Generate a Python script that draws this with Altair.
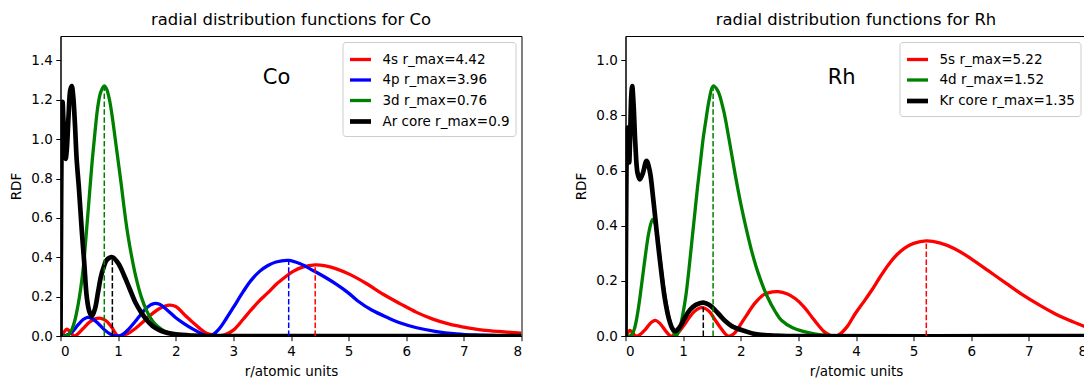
import altair as alt
import pandas as pd

FONT = "DejaVu Sans"

# ---------------- Co panel data ----------------
CO_LABELS = ["4s r_max=4.42", "4p r_max=3.96", "3d r_max=0.76", "Ar core r_max=0.9"]
CO_COLORS = ["#ff0000", "#0000ff", "#008000", "#000000"]
CO_WIDTHS = [3.3, 3.3, 3.3, 4.7]
CO_RMAX = [4.42, 3.96, 0.76, 0.9]
CO_PEAK = [0.361, 0.384, 1.27, 0.40]

CO_4S = [(0, 0), (0.05, 0.015), (0.11, 0.035), (0.17, 0.02), (0.24, 0), (0.3, 0.01), (0.4, 0.04),
         (0.5, 0.07), (0.6, 0.087), (0.7, 0.09), (0.8, 0.075), (0.9, 0.04), (0.95, 0.015), (1.0, 0),
         (1.1, 0.005), (1.2, 0.018), (1.3, 0.038), (1.4, 0.063), (1.5, 0.09), (1.6, 0.115), (1.72, 0.14),
         (1.89, 0.157), (2.0, 0.15), (2.18, 0.10), (2.3, 0.068), (2.41, 0.04), (2.5, 0.02), (2.6, 0.008),
         (2.73, 0), (2.85, 0.006), (3.0, 0.03), (3.17, 0.085), (3.3, 0.13), (3.45, 0.178), (3.6, 0.22),
         (3.74, 0.262), (3.9, 0.3), (4.03, 0.327), (4.2, 0.35), (4.42, 0.361), (4.6, 0.356), (4.8, 0.34),
         (5.02, 0.313), (5.3, 0.268), (5.6, 0.212), (5.9, 0.163), (6.18, 0.12), (6.45, 0.087),
         (6.75, 0.06), (7.0, 0.045), (7.33, 0.03), (7.7, 0.021), (8.0, 0.014)]

CO_4P = [(0, 0), (0.1, 0.003), (0.2, 0.02), (0.3, 0.055), (0.4, 0.085), (0.47, 0.095), (0.55, 0.088),
         (0.65, 0.065), (0.75, 0.035), (0.85, 0.012), (0.92, 0.003), (0.98, 0), (1.05, 0.004),
         (1.1, 0.012), (1.2, 0.04), (1.3, 0.075), (1.4, 0.112), (1.5, 0.145), (1.62, 0.165),
         (1.72, 0.161), (1.85, 0.132), (2.0, 0.093), (2.15, 0.062), (2.3, 0.035), (2.45, 0.012),
         (2.56, 0), (2.65, 0.008), (2.75, 0.035), (2.88, 0.09), (3.0, 0.145), (3.17, 0.225), (3.3, 0.28),
         (3.45, 0.327), (3.6, 0.358), (3.74, 0.376), (3.96, 0.384), (4.15, 0.368), (4.4, 0.33),
         (4.6, 0.297), (4.79, 0.262), (5.0, 0.218), (5.16, 0.178), (5.4, 0.132), (5.68, 0.093),
         (5.9, 0.066), (6.18, 0.042), (6.5, 0.024), (6.87, 0.011), (7.2, 0.005), (7.6, 0.002), (8.0, 0.001)]

CO_3D = [(0, 0), (0.1, 0.001), (0.15, 0.01), (0.2, 0.035), (0.25, 0.08), (0.3, 0.15), (0.35, 0.24),
         (0.4, 0.36), (0.45, 0.53), (0.5, 0.71), (0.55, 0.89), (0.6, 1.04), (0.65, 1.17), (0.7, 1.24),
         (0.76, 1.27), (0.8, 1.255), (0.85, 1.2), (0.9, 1.11), (0.95, 1.0), (1.0, 0.89), (1.05, 0.78),
         (1.1, 0.66), (1.15, 0.55), (1.2, 0.46), (1.3, 0.31), (1.4, 0.2), (1.5, 0.125), (1.6, 0.075),
         (1.7, 0.045), (1.8, 0.026), (2.0, 0.008), (2.2, 0.002), (2.5, 0), (8.0, 0)]

CO_CORE = [(0, 0), (0.01, 0.6), (0.02, 1.05), (0.035, 1.19), (0.05, 1.1), (0.07, 0.95), (0.09, 0.9),
           (0.11, 0.95), (0.14, 1.12), (0.17, 1.25), (0.195, 1.27), (0.22, 1.22), (0.25, 1.08),
           (0.28, 0.9), (0.32, 0.75), (0.37, 0.533), (0.41, 0.38), (0.457, 0.195), (0.5, 0.125),
           (0.544, 0.1), (0.6, 0.14), (0.65, 0.22), (0.7, 0.3), (0.75, 0.35), (0.8, 0.385), (0.9, 0.4),
           (1.0, 0.37), (1.1, 0.31), (1.2, 0.24), (1.3, 0.17), (1.4, 0.12), (1.5, 0.08), (1.6, 0.05),
           (1.7, 0.032), (1.8, 0.02), (2.0, 0.008), (2.3, 0.002), (2.6, 0), (8.0, 0)]

# ---------------- Rh panel data ----------------
RH_LABELS = ["5s r_max=5.22", "4d r_max=1.52", "Kr core r_max=1.35"]
RH_COLORS = ["#ff0000", "#008000", "#000000"]
RH_WIDTHS = [3.3, 3.3, 4.7]
RH_RMAX = [5.22, 1.52, 1.35]
RH_PEAK = [0.345, 0.907, 0.121]

RH_5S = [(0, 0), (0.04, 0.012), (0.076, 0.02), (0.12, 0.012), (0.18, 0), (0.25, 0.005), (0.35, 0.025),
         (0.45, 0.05), (0.52, 0.057), (0.6, 0.045), (0.7, 0.018), (0.785, 0), (0.9, 0.01), (1.0, 0.035),
         (1.1, 0.065), (1.2, 0.09), (1.32, 0.103), (1.45, 0.09), (1.55, 0.06), (1.65, 0.03), (1.78, 0),
         (1.88, 0.008), (1.96, 0.03), (2.1, 0.075), (2.25, 0.12), (2.4, 0.15), (2.55, 0.16),
         (2.65, 0.161), (2.8, 0.153), (2.95, 0.135), (3.1, 0.105), (3.23, 0.07), (3.35, 0.038),
         (3.45, 0.015), (3.55, 0.003), (3.62, 0), (3.7, 0.004), (3.85, 0.035), (3.98, 0.079),
         (4.12, 0.12), (4.27, 0.165), (4.42, 0.215), (4.56, 0.258), (4.7, 0.293), (4.85, 0.32),
         (5.0, 0.336), (5.22, 0.345), (5.45, 0.338), (5.72, 0.316), (6.0, 0.28), (6.3, 0.236),
         (6.6, 0.192), (6.88, 0.151), (7.2, 0.11), (7.46, 0.08), (7.7, 0.057), (8.0, 0.032)]

RH_4D = [(0, 0), (0.07, 0), (0.12, 0.008), (0.16, 0.03), (0.2, 0.07), (0.25, 0.139), (0.325, 0.26),
         (0.41, 0.381), (0.47, 0.423), (0.51, 0.41), (0.55, 0.37), (0.6, 0.28), (0.68, 0.15),
         (0.75, 0.07), (0.82, 0.02), (0.875, 0), (0.93, 0.02), (1.0, 0.085), (1.05, 0.15), (1.1, 0.24),
         (1.15, 0.34), (1.2, 0.44), (1.25, 0.54), (1.3, 0.63), (1.35, 0.72), (1.4, 0.79), (1.45, 0.855),
         (1.52, 0.907), (1.6, 0.89), (1.7, 0.82), (1.8, 0.71), (1.9, 0.59), (2.0, 0.48), (2.1, 0.385),
         (2.2, 0.3), (2.3, 0.23), (2.45, 0.148), (2.6, 0.088), (2.71, 0.056), (2.9, 0.03), (3.1, 0.016),
         (3.3, 0.007), (3.5, 0.002), (3.8, 0), (8.0, 0)]

RH_CORE = [(0, 0), (0.01, 0.4), (0.025, 0.72), (0.035, 0.756), (0.05, 0.68), (0.064, 0.63), (0.08, 0.72),
           (0.1, 0.87), (0.116, 0.907), (0.14, 0.84), (0.17, 0.7), (0.21, 0.59), (0.25, 0.568),
           (0.3, 0.59), (0.365, 0.635), (0.42, 0.6), (0.48, 0.5), (0.54, 0.381), (0.6, 0.27),
           (0.68, 0.139), (0.75, 0.065), (0.82, 0.025), (0.87, 0.018), (0.95, 0.035), (1.03, 0.066),
           (1.12, 0.095), (1.22, 0.113), (1.35, 0.121), (1.45, 0.113), (1.55, 0.095), (1.65, 0.072),
           (1.73, 0.054), (1.85, 0.035), (2.07, 0.018), (2.25, 0.007), (2.5, 0.002), (2.8, 0), (8.0, 0)]

X_TICKS = [0, 1, 2, 3, 4, 5, 6, 7, 8]
CO_Y_TICKS = [0.0, 0.2, 0.4, 0.6, 0.8, 1.0, 1.2, 1.4]
RH_Y_TICKS = [0.0, 0.2, 0.4, 0.6, 0.8, 1.0]


def panel(title, element, labels, colors, widths, curves, rmax, peak, ymax, yticks, w, h):
    cscale = alt.Scale(domain=labels, range=colors)
    wscale = alt.Scale(type="ordinal", domain=labels, range=widths)
    legend = alt.Legend(title=None, orient="top-right", offset=6, fillColor="white",
                        strokeColor="#cccccc", cornerRadius=3, padding=5,
                        labelFontSize=13.5, labelFont=FONT, labelColor="black",
                        symbolType="stroke", symbolSize=440, rowPadding=0.5,
                        labelOffset=9, labelLimit=400)
    x = alt.X("r:Q", scale=alt.Scale(domain=[0, 8], nice=False, zero=False),
              axis=alt.Axis(values=X_TICKS, format="d", title="r/atomic units"))
    y = alt.Y("v:Q", scale=alt.Scale(domain=[0, ymax], nice=False),
              axis=alt.Axis(values=yticks, format=".1f", title="RDF"))
    layers = []
    for lab, pts in zip(labels, curves):
        df = pd.DataFrame(pts, columns=["r", "v"])
        df["series"] = lab
        layers.append(
            alt.Chart(df).mark_line(interpolate="catmull-rom", clip=True).encode(
                x=x, y=y,
                color=alt.Color("series:N", scale=cscale, legend=legend),
                strokeWidth=alt.StrokeWidth("series:N", scale=wscale, legend=legend),
            )
        )
    rules = pd.DataFrame({"r": rmax, "v": peak, "base": [0.0] * len(rmax), "series": labels})
    layers.append(
        alt.Chart(rules).mark_rule(strokeDash=[5.5, 2.4], strokeWidth=1.5).encode(
            x=x, y=alt.Y("base:Q", scale=alt.Scale(domain=[0, ymax], nice=False)), y2="v:Q",
            color=alt.Color("series:N", scale=cscale, legend=legend),
        )
    )
    ann = pd.DataFrame({"r": [3.75], "v": [ymax * 0.86], "t": [element]})
    layers.append(
        alt.Chart(ann).mark_text(fontSize=21, font=FONT, color="black", align="center",
                                 baseline="middle").encode(x=x, y=y, text="t:N")
    )
    return alt.layer(*layers).properties(
        width=w, height=h,
        view=alt.ViewBackground(stroke="black", strokeWidth=1, fill="white"),
        title=alt.TitleParams(title, fontSize=16.4, font=FONT, fontWeight="normal", color="black",
                              offset=8, anchor="middle"),
    )


left = panel("radial distribution functions for Co", "Co", CO_LABELS, CO_COLORS, CO_WIDTHS,
             [CO_4S, CO_4P, CO_3D, CO_CORE], CO_RMAX, CO_PEAK, 1.524, CO_Y_TICKS, 461, 300)
right = panel("radial distribution functions for Rh", "Rh", RH_LABELS, RH_COLORS, RH_WIDTHS,
              [RH_5S, RH_4D, RH_CORE], RH_RMAX, RH_PEAK, 1.0884, RH_Y_TICKS, 461, 300)

chart = alt.hconcat(left, right, spacing=51).resolve_scale(
    color="independent", strokeWidth="independent", x="independent", y="independent"
).resolve_legend(color="independent", strokeWidth="independent").properties(
    padding={"left": 8.5, "top": 11, "right": -4, "bottom": 0}
).configure(font=FONT).configure_view(
    stroke="black", strokeWidth=1
).configure_axis(
    domainColor="black", domainWidth=1, tickColor="black", tickWidth=1, tickSize=4.7,
    labelColor="black", labelFontSize=13.5, labelFont=FONT, labelPadding=3.5,
    titleColor="black", titleFontSize=13.5, titleFont=FONT, titleFontWeight="normal",
    grid=False, titlePadding=7,
)

chart.save("out.html", embed_options={"renderer": "svg", "actions": False})
